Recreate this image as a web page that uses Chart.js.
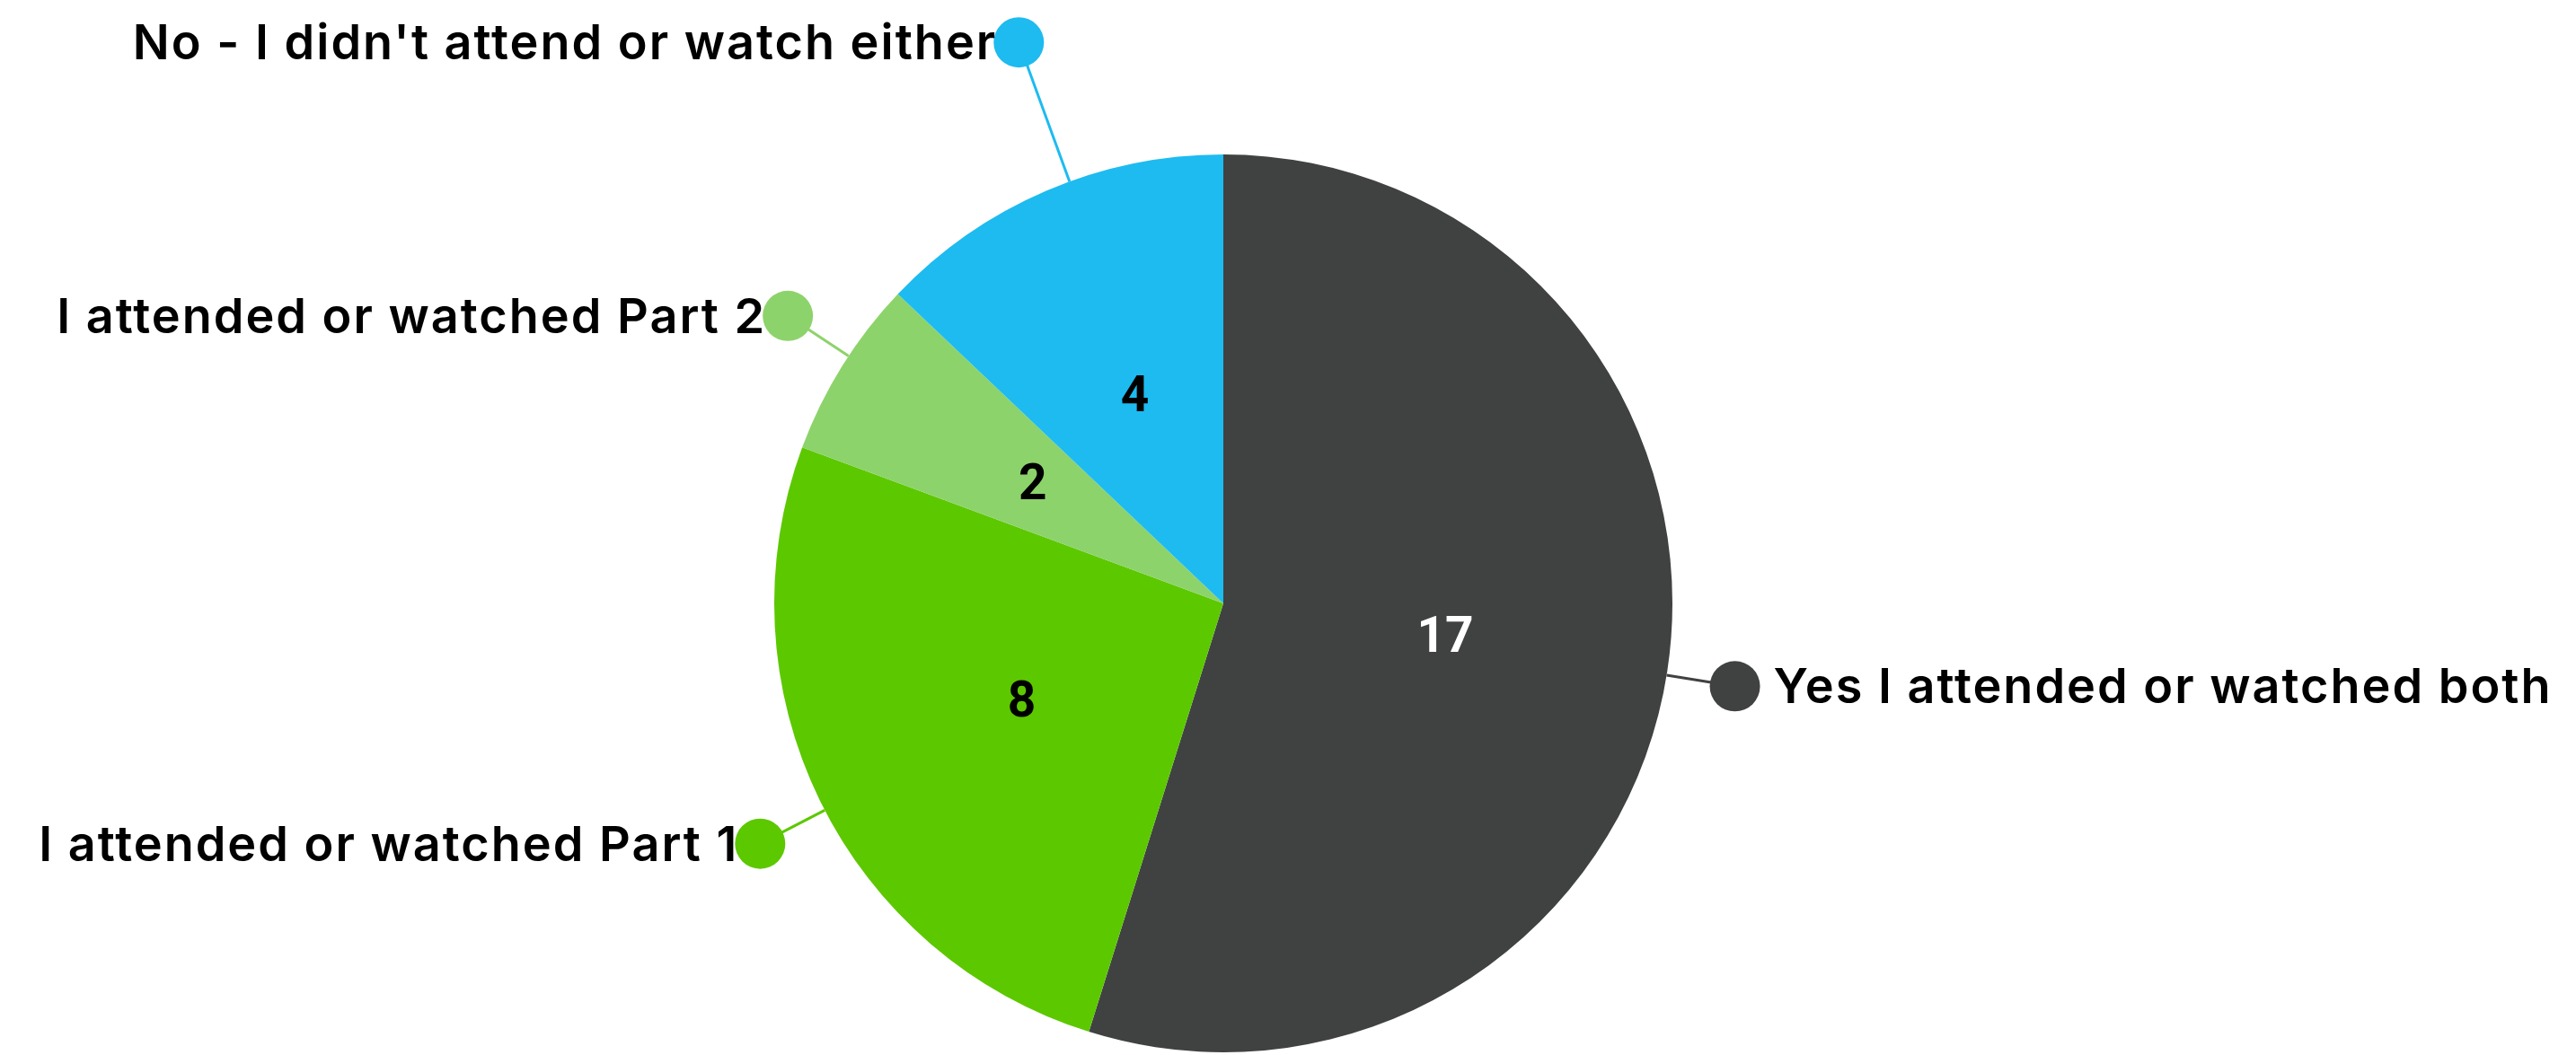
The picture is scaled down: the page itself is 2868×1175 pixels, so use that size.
<!DOCTYPE html>
<html>
<head>
<meta charset="utf-8">
<script src="https://cdn.jsdelivr.net/npm/chart.js@4"></script>
<style>
  html, body { margin: 0; padding: 0; background: #ffffff; }
  #wrap { width: 2868px; height: 1175px; }
</style>
</head>
<body>
<div id="wrap"><canvas id="c" width="2868" height="1175"></canvas></div>
<script>
// ---- data ----
const categories = [
  "Yes I attended or watched both",
  "I attended or watched Part 1",
  "I attended or watched Part 2",
  "No - I didn't attend or watch either"
];
const values = [17, 8, 2, 4];
const sliceColors = ["#404241", "#5CC800", "#8DD36B", "#1DBBF0"];
const valueTextColors = ["#ffffff", "#000000", "#000000", "#000000"];

// callout layout: extra distance of the dot beyond the rim, and angular nudge (degrees)
const calloutExtra = [77, 81, 81, 165];
const calloutShift = [0.5, -1.3, 1.5, 3.2];

const calloutPlugin = {
  id: 'callouts',
  afterDatasetsDraw(chart) {
    const ctx = chart.ctx;
    const meta = chart.getDatasetMeta(0);
    meta.data.forEach((arc, i) => {
      const p = arc.getProps(['x', 'y', 'startAngle', 'endAngle', 'outerRadius'], true);
      const mid = (p.startAngle + p.endAngle) / 2;
      // value label at half radius
      ctx.save();
      ctx.font = '700 55px Roboto';
      ctx.fillStyle = valueTextColors[i];
      ctx.textAlign = 'center';
      ctx.textBaseline = 'middle';
      const vr = p.outerRadius * 0.5;
      ctx.fillText(String(values[i]), p.x + Math.cos(mid) * vr, p.y + Math.sin(mid) * vr + 2);
      ctx.restore();

      // callout
      const a = mid + calloutShift[i] * Math.PI / 180;
      const ex = p.x + Math.cos(a) * p.outerRadius;
      const ey = p.y + Math.sin(a) * p.outerRadius;
      const dr = p.outerRadius + calloutExtra[i];
      const dx = p.x + Math.cos(a) * dr;
      const dy = p.y + Math.sin(a) * dr;
      const dotR = 28;
      ctx.save();
      ctx.strokeStyle = sliceColors[i];
      ctx.lineWidth = 3;
      ctx.beginPath();
      ctx.moveTo(ex, ey);
      ctx.lineTo(dx, dy);
      ctx.stroke();
      ctx.fillStyle = sliceColors[i];
      ctx.beginPath();
      ctx.arc(dx, dy, dotR, 0, Math.PI * 2);
      ctx.fill();
      ctx.font = '600 54px Inter';
      ctx.letterSpacing = '2px';
      ctx.fillStyle = '#000000';
      ctx.textBaseline = 'alphabetic';
      const ty = dy + 19;
      if (dx > p.x) {
        ctx.textAlign = 'left';
        ctx.fillText(categories[i], dx + dotR + 15, ty);
      } else {
        ctx.textAlign = 'right';
        ctx.fillText(categories[i], dx - dotR + 4, ty);
      }
      ctx.restore();
    });
  }
};

new Chart(document.getElementById('c'), {
  type: 'pie',
  data: {
    labels: categories,
    datasets: [{
      data: values,
      backgroundColor: sliceColors,
      borderWidth: 0,
      offset: 0,
      hoverOffset: 0
    }]
  },
  options: {
    responsive: false,
    devicePixelRatio: 1,
    animation: false,
    events: [],
    layout: { padding: { left: 862, right: 1006, top: 172, bottom: 3 } },
    plugins: {
      legend: { display: false },
      tooltip: { enabled: false }
    }
  },
  plugins: [calloutPlugin]
});
</script>
</body>
</html>
